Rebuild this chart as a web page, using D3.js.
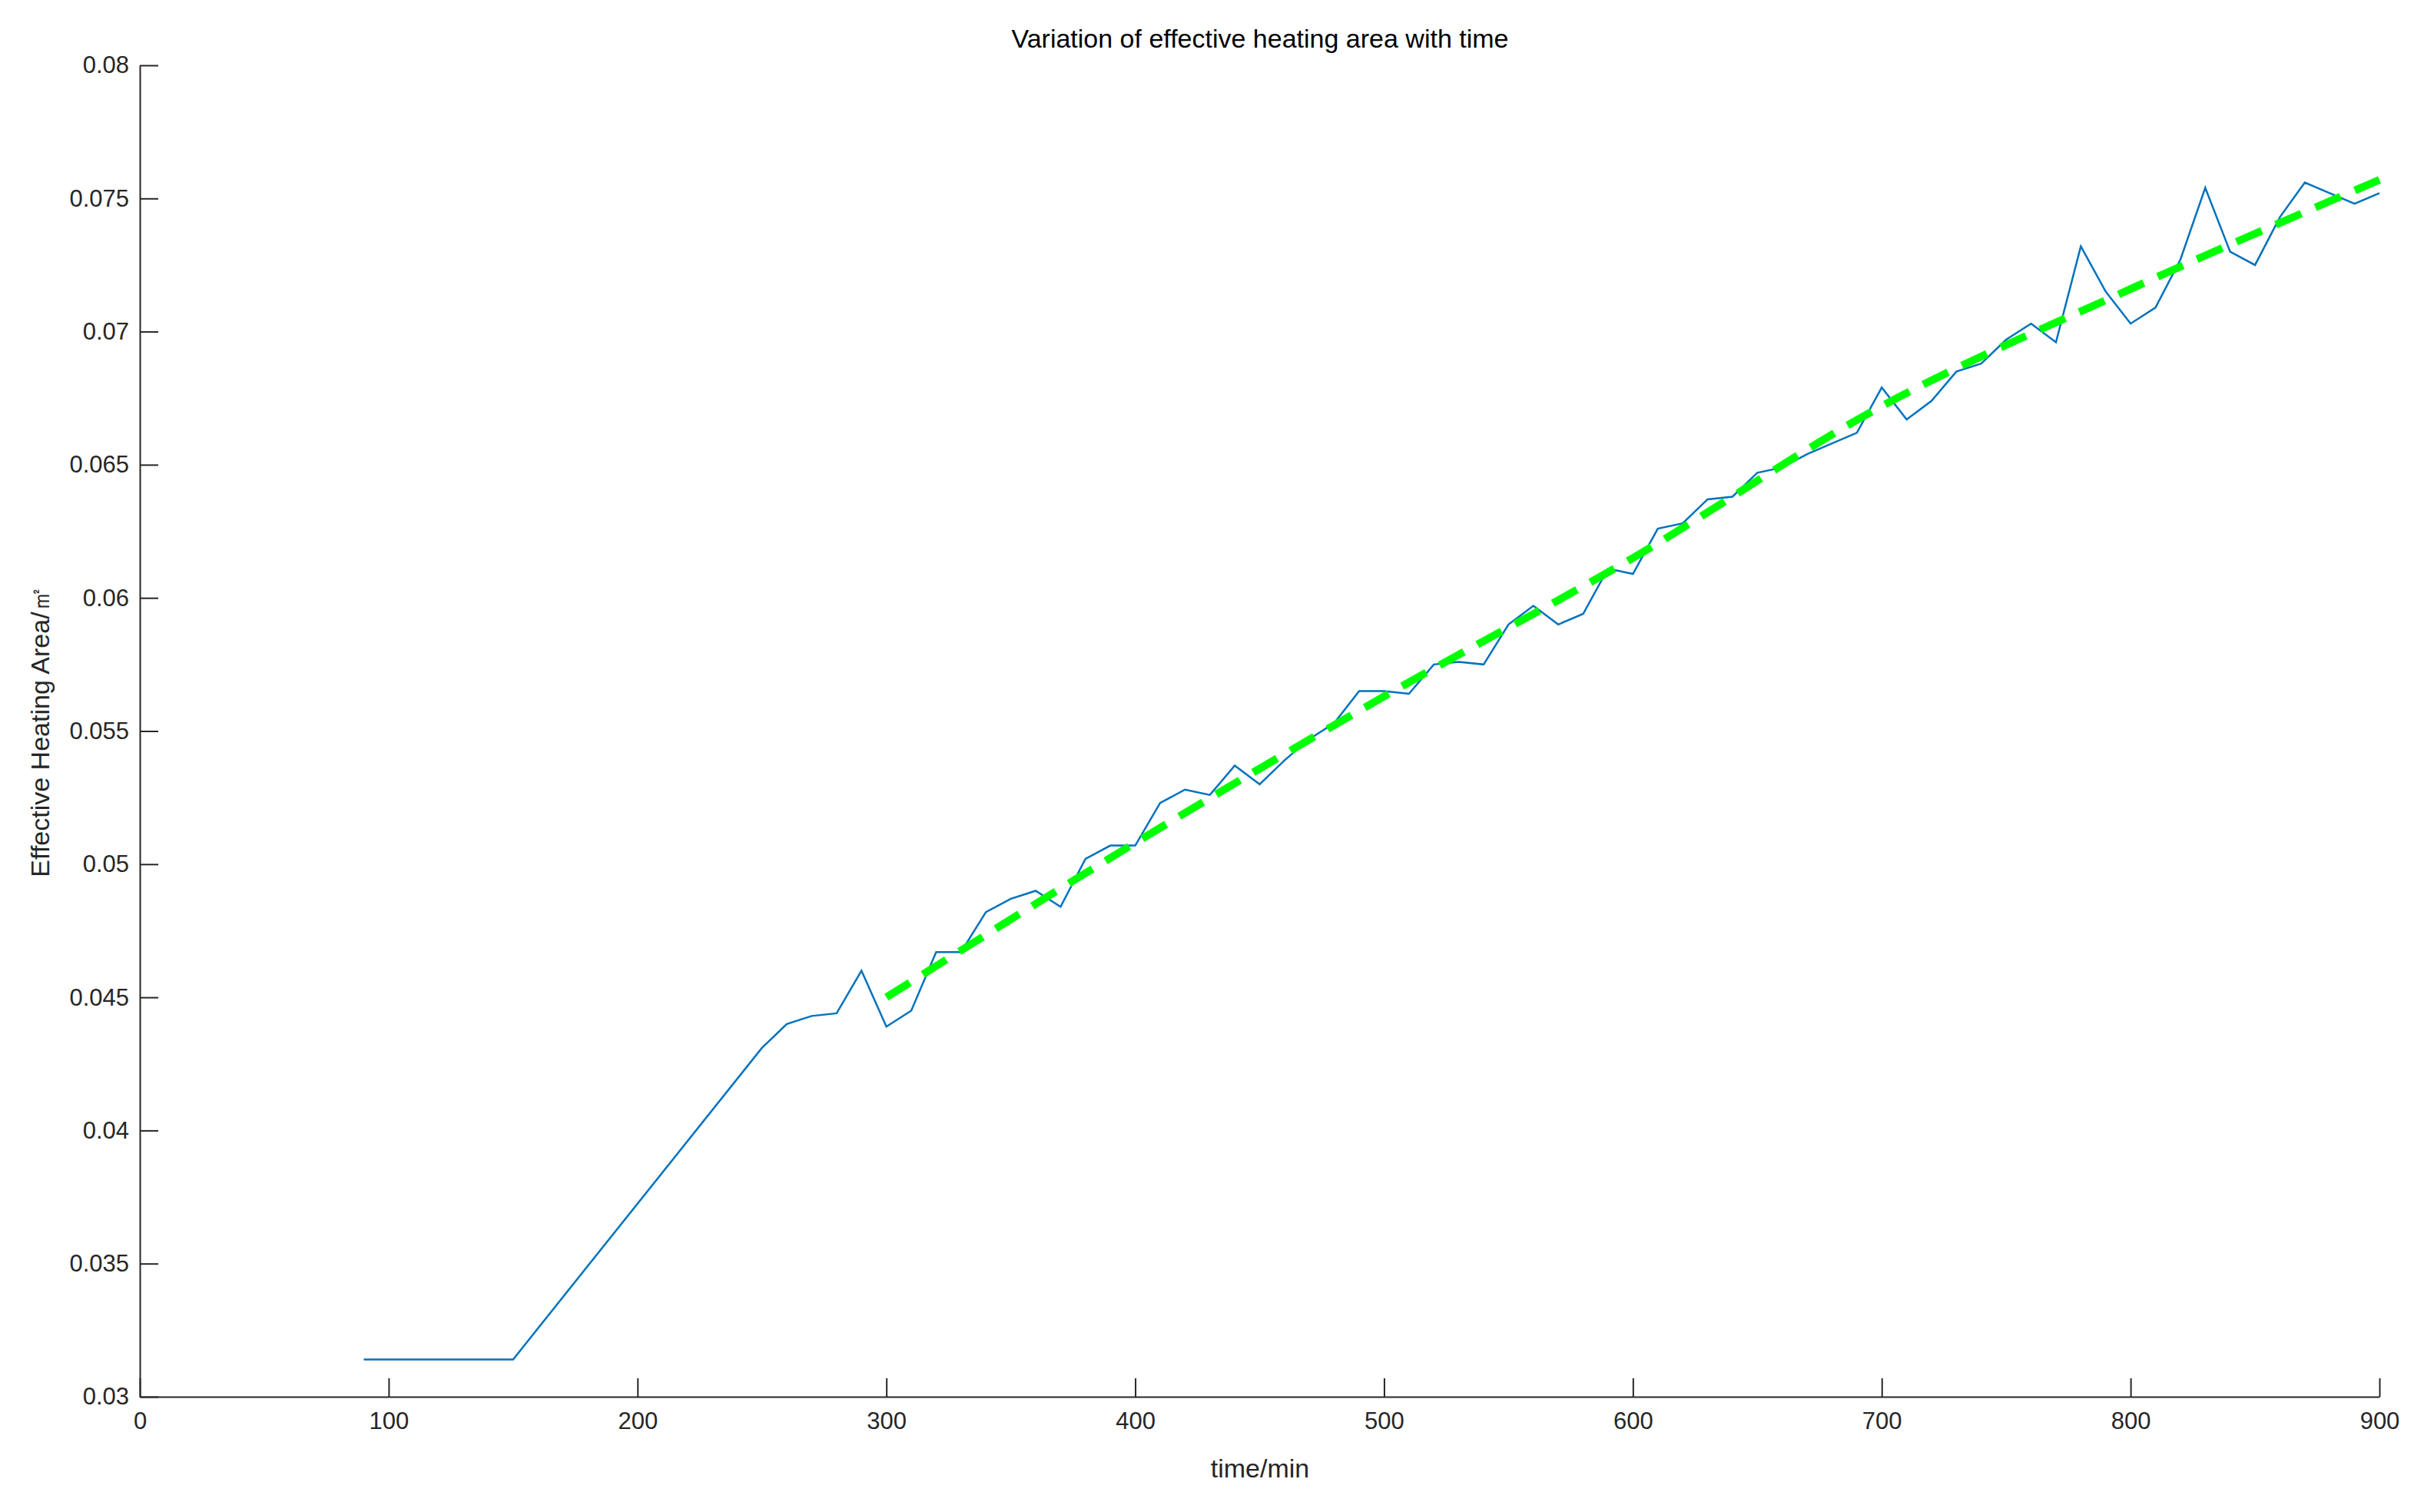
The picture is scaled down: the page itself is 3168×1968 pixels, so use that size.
<!DOCTYPE html>
<html><head><meta charset="utf-8">
<script src="https://cdn.jsdelivr.net/npm/d3@7"></script>
<style>body{margin:0;background:#fff}text{font-family:"Liberation Sans Narrow","Liberation Sans",Arial,sans-serif}</style>
</head><body><svg id="c" width="3168" height="1968"></svg>
<script>
// measured series
const times = [90,150,250,260,270,280,290,300,310,320,330,340,350,360,370,380,390,400,410,420,430,440,450,460,470,480,490,500,510,520,530,540,550,560,570,580,590,600,610,620,630,640,650,660,670,680,690,700,710,720,730,740,750,760,770,780,790,800,810,820,830,840,850,860,870,880,890,900];
const area = [0.0314,0.0314,0.0431,0.0440,0.0443,0.0444,0.0460,0.0439,0.0445,0.0467,0.0467,0.0482,0.0487,0.0490,0.0484,0.0502,0.0507,0.0507,0.0523,0.0528,0.0526,0.0537,0.0530,0.0539,0.0547,0.0553,0.0565,0.0565,0.0564,0.0575,0.0576,0.0575,0.0590,0.0597,0.0590,0.0594,0.0611,0.0609,0.0626,0.0628,0.0637,0.0638,0.0647,0.0649,0.0654,0.0658,0.0662,0.0679,0.0667,0.0674,0.0685,0.0688,0.0697,0.0703,0.0696,0.0732,0.0715,0.0703,0.0709,0.0727,0.0754,0.0730,0.0725,0.0743,0.0756,0.0752,0.0748,0.0752];
// fitted trend (slightly concave)
const fitT = [300, 400, 500, 600, 700, 800, 900];
const fitA = [0.0450, 0.0508, 0.0563, 0.0615, 0.0672, 0.0716, 0.0757];
const xTicks = [0,100,200,300,400,500,600,700,800,900];
const yTicks = [0.03,0.035,0.04,0.045,0.05,0.055,0.06,0.065,0.07,0.075,0.08];

const svg = d3.select('#c');
const x = d3.scaleLinear().domain([0, 900]).range([182, 3097]);
const y = d3.scaleLinear().domain([0.03, 0.08]).range([1818, 85]);

const xa = svg.append('g').attr('transform', 'translate(0,1818)')
  .call(d3.axisBottom(x).tickValues(xTicks).tickSizeInner(-24).tickSizeOuter(0).tickPadding(14));
const ya = svg.append('g').attr('transform', 'translate(182,0)')
  .call(d3.axisLeft(y).tickValues(yTicks).tickFormat(d => String(+d.toFixed(3))).tickSizeInner(-24).tickSizeOuter(0).tickPadding(14));
[xa, ya].forEach(a => {
  a.selectAll('path,line').attr('stroke', '#262626').attr('stroke-width', 2);
  a.selectAll('text').attr('font-size', 31).attr('fill', '#262626');
});
xa.selectAll('text').attr('dy', '0.9em');

const line = d3.line().x(d => x(d[0])).y(d => y(d[1]));
svg.append('path').datum(times.map((t, i) => [t, area[i]]))
  .attr('d', line).attr('fill', 'none').attr('stroke', '#0072BD').attr('stroke-width', 2.5);
svg.append('path').datum(fitT.map((t, i) => [t, fitA[i]]))
  .attr('d', line.curve(d3.curveMonotoneX)).attr('fill', 'none').attr('stroke', '#00FF00').attr('stroke-width', 10)
  .attr('stroke-dasharray', '36,20');

svg.append('text').attr('x', 1640).attr('y', 62).attr('text-anchor', 'middle')
  .attr('font-size', 34).attr('fill', '#000').text('Variation of effective heating area with time');
svg.append('text').attr('x', 1640).attr('y', 1923).attr('text-anchor', 'middle')
  .attr('font-size', 34).attr('fill', '#262626').text('time/min');
svg.append('text').attr('transform', 'translate(64,952) rotate(-90)').attr('text-anchor', 'middle')
  .attr('font-size', 34).attr('fill', '#262626').style('font-family', '"Liberation Sans",Arial,sans-serif')
  .text('Effective Heating Area/㎡');
</script></body></html>
